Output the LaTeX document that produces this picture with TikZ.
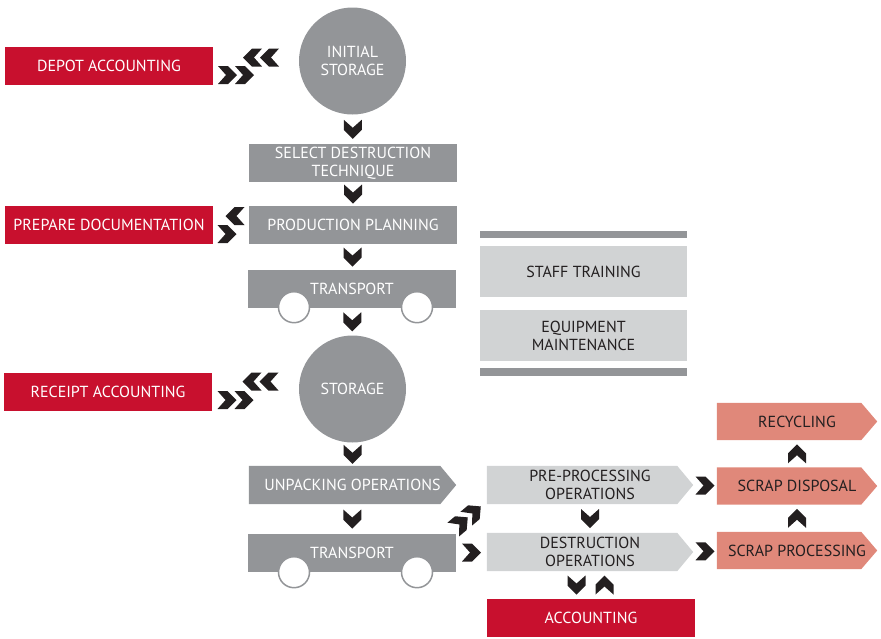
\documentclass[tikz,border=0pt]{standalone}
\usepackage{fontspec}
\setmainfont{PT Sans}
\usepackage{tikz}
\usetikzlibrary{calc}
\definecolor{redbox}{HTML}{C8102E}
\definecolor{graybox}{HTML}{939598}
\definecolor{lightbox}{HTML}{D1D3D4}
\definecolor{salmonbox}{HTML}{E0887A}
\definecolor{chevcol}{HTML}{231F20}
\pgfdeclarelayer{background}
\pgfsetlayers{background,main}
\tikzset{
  box/.style={minimum width=208, minimum height=38, inner sep=0pt, align=center,
    font=\fontsize{16}{18}\selectfont},
  redstep/.style={box, fill=redbox, text=white},
  graystep/.style={box, fill=graybox, text=white},
  lightstep/.style={box, fill=lightbox, text=chevcol},
  tipstep/.style={box, text=#1},
  storecircle/.style={circle, minimum size=107, inner sep=0pt, fill=graybox, text=white,
    align=center, font=\fontsize{16}{18}\selectfont},
  wheel/.style={fill=white, draw=graybox, line width=1.5pt},
  chev/.pic={\fill[chevcol] (-9.5,9) -- (0.5,9) -- (9.5,0) -- (0.5,-9) -- (-9.5,-9) -- (-1.5,0) -- cycle;},
  dchev/.pic={\fill[chevcol] (-18,9) -- (-8,9) -- (1,0) -- (-8,-9) -- (-18,-9) -- (-10,0) -- cycle
    (-1,9) -- (9,9) -- (18,0) -- (9,-9) -- (-1,-9) -- (7,0) -- cycle;}
}
% pentagon behind a step node
\newcommand{\tipfill}[2]{\fill[#2] (#1.north west) -- ([xshift=-16pt]#1.north east) -- (#1.east)
  -- ([xshift=-16pt]#1.south east) -- (#1.south west) -- cycle;}

\begin{document}
\begin{tikzpicture}[x=1pt,y=-1pt]
  \useasboundingbox (0,0) rectangle (881,638);
  % left column
  \node[storecircle] (initst) at (352.5,61) {INITIAL\\STORAGE};
  \node[redstep] (depot) at (109,66) {DEPOT ACCOUNTING};
  \node[graystep] (select) at (353,163) {SELECT DESTRUCTION\\TECHNIQUE};
  \node[graystep] (prodplan) at (353,225) {PRODUCTION PLANNING};
  \node[redstep] (prepdoc) at (109,225) {PREPARE DOCUMENTATION};
  \node[graystep] (transA) at (352,289) {TRANSPORT};
  \draw[wheel] ($(transA.south)+(-58,-1)$) circle (15.5);
  \draw[wheel] ($(transA.south)+(65,-1)$) circle (15.5);
  \node[storecircle] (storage) at (352.5,389) {STORAGE};
  \node[redstep] (receipt) at (108,392) {RECEIPT ACCOUNTING};
  \node[tipstep=white, minimum width=207] (unpack) at (352.5,485) {UNPACKING OPERATIONS};
  \node[graystep] (transB) at (352,553) {TRANSPORT};
  \draw[wheel] ($(transB.south)+(-58,0)$) circle (15.5);
  \draw[wheel] ($(transB.south)+(65,0)$) circle (15.5);
  % middle column
  \node[lightstep, minimum height=51, minimum width=207] (staff) at (583.5,271.5) {STAFF TRAINING};
  \node[lightstep, minimum height=51, minimum width=207] (equip) at (583.5,335.5) {EQUIPMENT\\MAINTENANCE};
  \fill[graybox] ($(staff.north west)+(0,-8)$) rectangle ($(staff.north east)+(0,-15)$);
  \fill[graybox] ($(equip.south west)+(0,7)$) rectangle ($(equip.south east)+(0,15)$);
  \node[tipstep=chevcol, minimum width=206] (preproc) at (590,485) {PRE-PROCESSING\\OPERATIONS};
  \node[tipstep=chevcol, minimum width=206] (destr) at (590,552) {DESTRUCTION\\OPERATIONS};
  \node[redstep] (acct) at (591,618) {ACCOUNTING};
  % right column
  \node[tipstep=chevcol, minimum width=160, minimum height=37] (recyc) at (797,421.5) {RECYCLING};
  \node[tipstep=chevcol, minimum width=160, minimum height=37] (disposal) at (797,486) {SCRAP DISPOSAL};
  \node[tipstep=chevcol, minimum width=160, minimum height=37] (scrapproc) at (797,550.5) {SCRAP PROCESSING};
  \begin{pgfonlayer}{background}
    \tipfill{unpack}{graybox}
    \tipfill{preproc}{lightbox}
    \tipfill{destr}{lightbox}
    \tipfill{recyc}{salmonbox}
    \tipfill{disposal}{salmonbox}
    \tipfill{scrapproc}{salmonbox}
  \end{pgfonlayer}
  % chevrons
  \pic[rotate=-90] at ($(initst.south)!0.5!(select.north)$) {chev};
  \pic[rotate=-90] at ($(select.south)!0.5!(prodplan.north)$) {chev};
  \pic[rotate=-90] at ($(prodplan.south)!0.5!(transA.north)$) {chev};
  \pic[rotate=-90] at ($(transA.south)!0.5!(storage.north)$) {chev};
  \pic[rotate=-90] at ($(storage.south)!0.5!(unpack.north)$) {chev};
  \pic[rotate=-90] at ($(unpack.south)!0.5!(transB.north)$) {chev};
  \pic[rotate=-90] at ($(preproc.south)!0.5!(destr.north)$) {chev};
  \pic[rotate=-90] at ($($(destr.south)!0.5!(acct.north)$)+(-14,0)$) {chev};
  \pic[rotate=90] at ($($(destr.south)!0.5!(acct.north)$)+(14,0)$) {chev};
  \pic at ($(transB.east)!0.5!(destr.west)$) {chev};
  \pic at ($(preproc.east)!0.5!(disposal.west)$) {chev};
  \pic at ($(destr.east)!0.5!(scrapproc.west)$) {chev};
  \pic[rotate=90] at ($(scrapproc.north)!0.5!(disposal.south)$) {chev};
  \pic[rotate=90] at ($(disposal.north)!0.5!(recyc.south)$) {chev};
  \pic[rotate=40] at (467,518) {dchev};
  \pic[rotate=180] at ($($(depot.east)!0.5!(initst.west)$)+(5,-6)$) {dchev};
  \pic at ($($(depot.east)!0.5!(initst.west)$)+(-20,11.5)$) {dchev};
  \pic[rotate=180] at ($($(prepdoc.east)!0.5!(prodplan.west)$)+(4,-9)$) {chev};
  \pic at ($($(prepdoc.east)!0.5!(prodplan.west)$)+(-4,9)$) {chev};
  \pic[rotate=180] at ($($(receipt.east)!0.5!(storage.west)$)+(5,-9)$) {dchev};
  \pic at ($($(receipt.east)!0.5!(storage.west)$)+(-20,9.5)$) {dchev};
\end{tikzpicture}
\end{document}
